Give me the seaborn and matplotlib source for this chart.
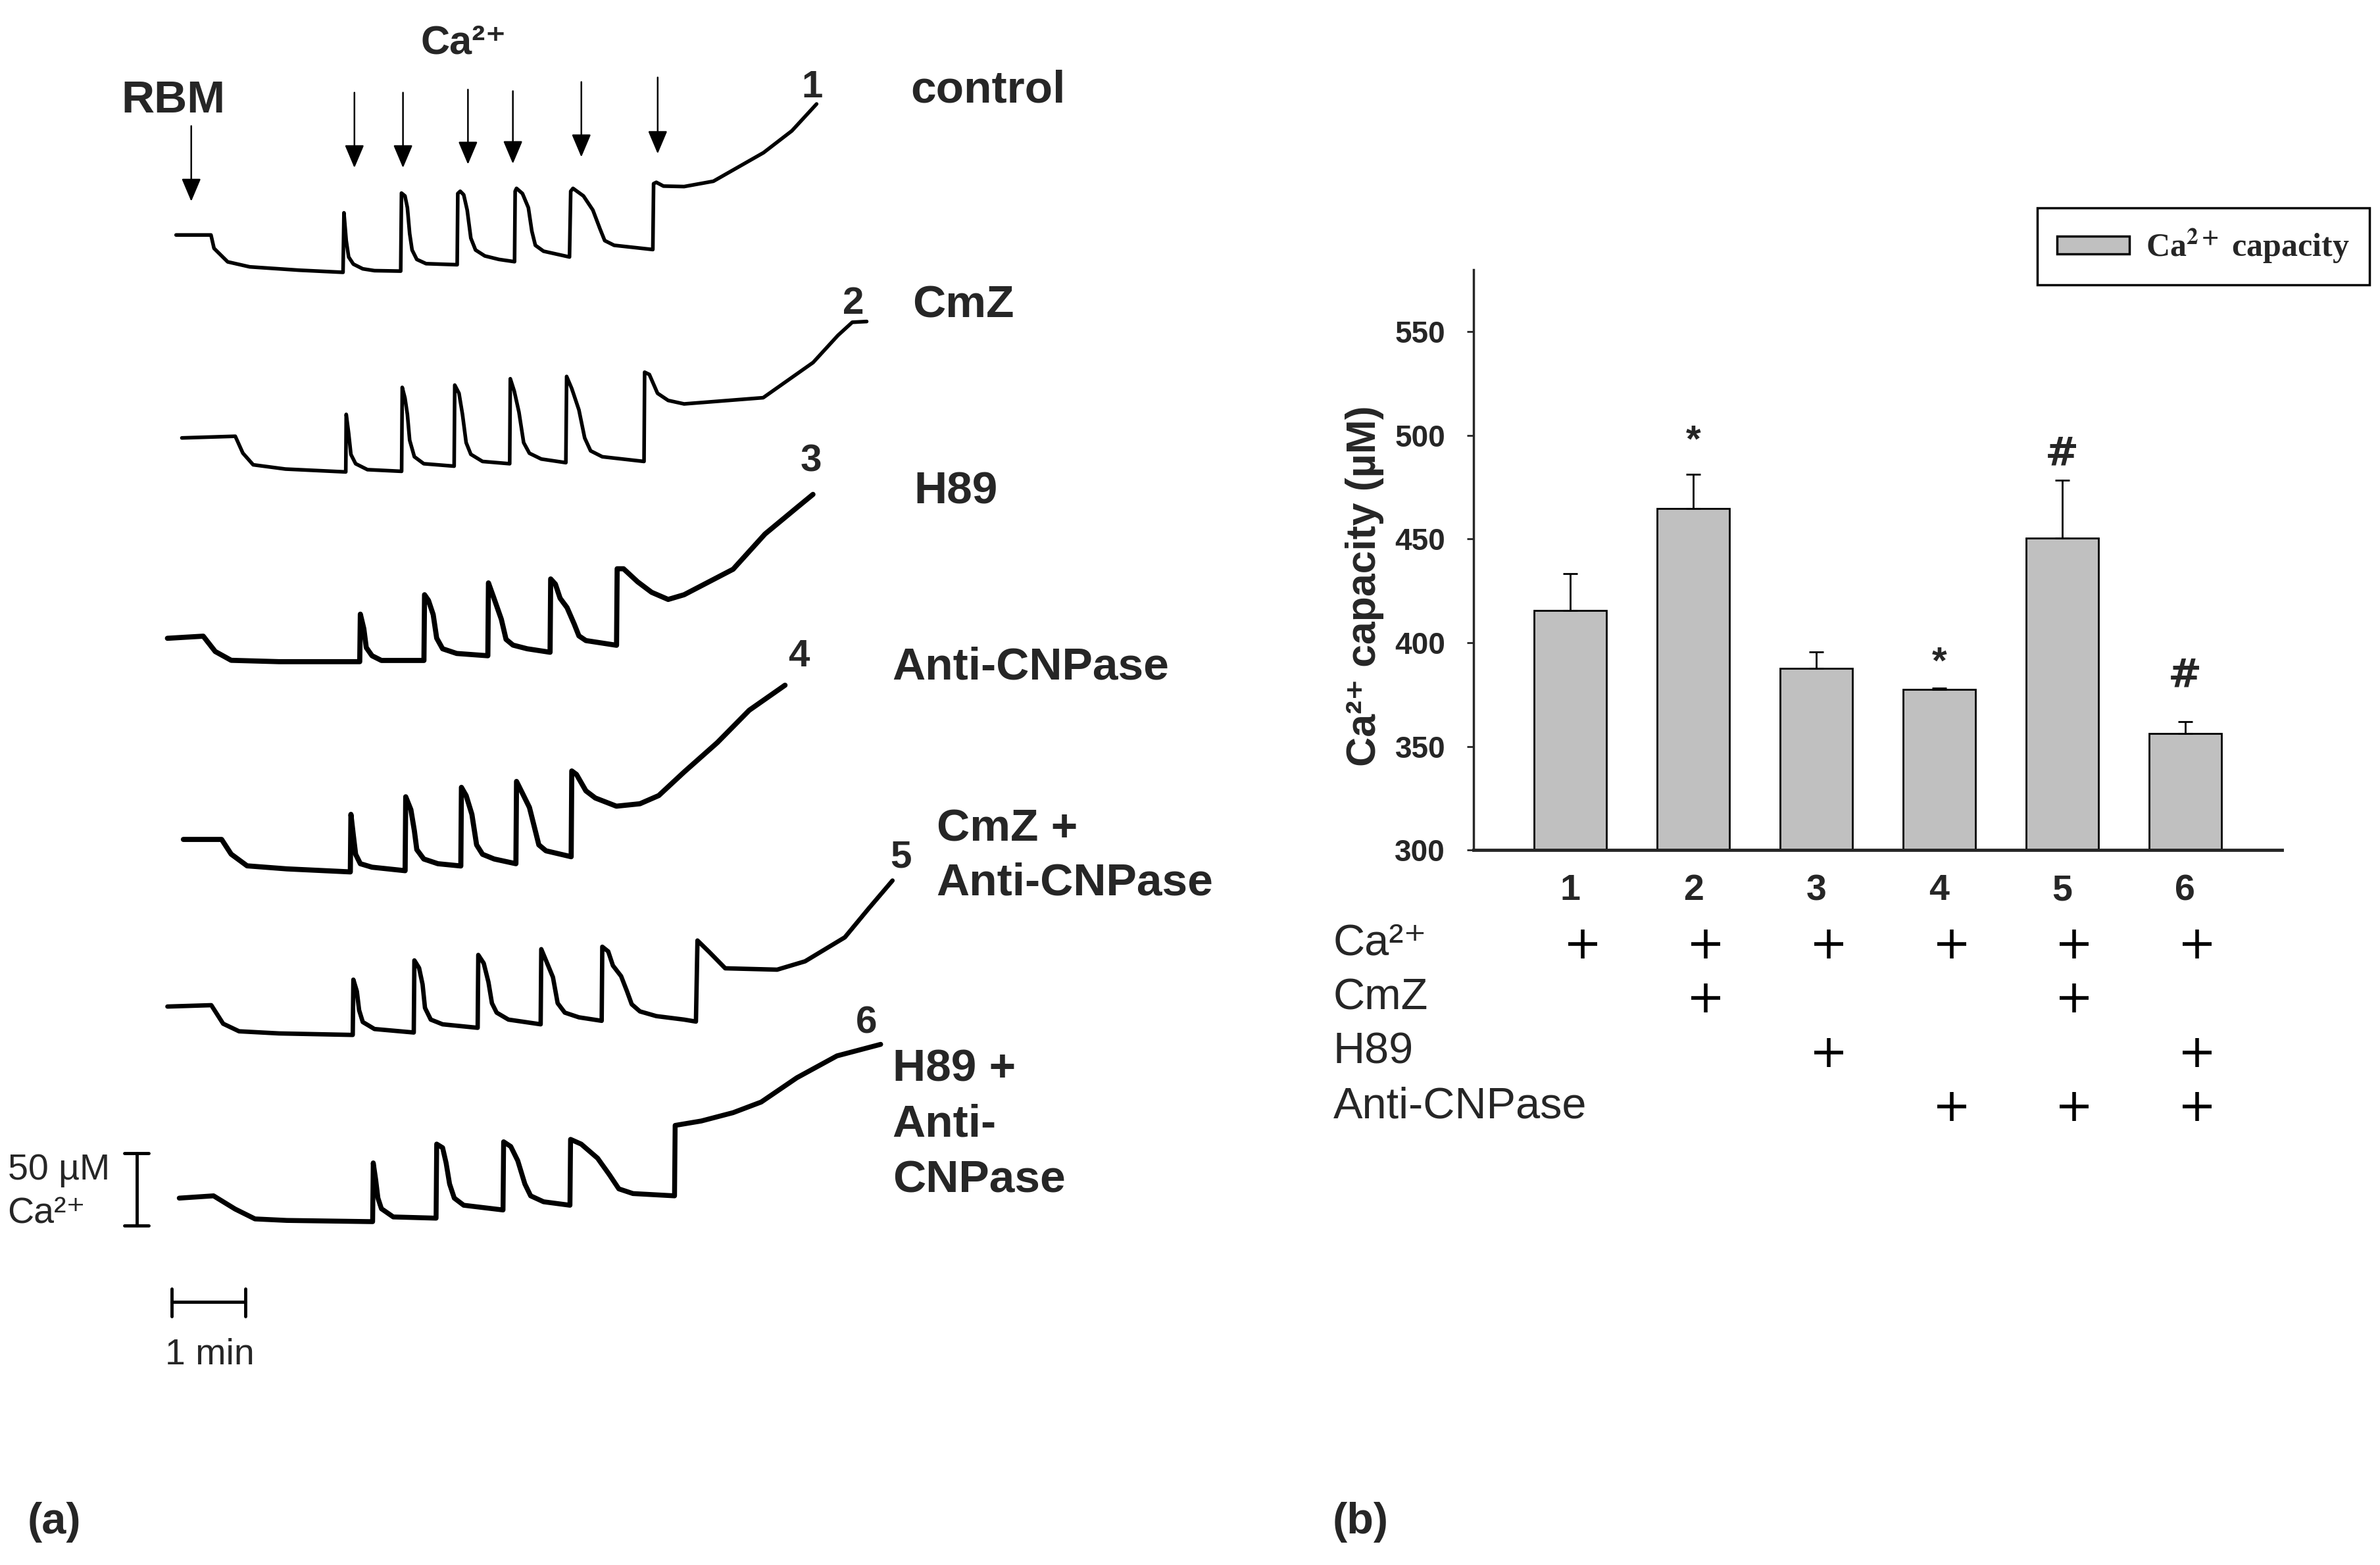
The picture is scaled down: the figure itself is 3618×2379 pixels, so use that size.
import numpy as np
import pandas as pd
import seaborn as sns
import matplotlib.pyplot as plt
from matplotlib.patches import Patch

# ---- panel (a): Ca2+ traces (x ~ time, y ~ signal, y grows downward)
trace1_x = [116, 139, 141, 150, 164.5, 197, 226,
            226.6, 228.1, 229.7, 232.8, 239, 246.7, 264,
            264.5, 266.8, 268.4, 269.9, 271.5, 274.6, 280.7, 301.2,
            301.6, 303.2, 305.5, 307.8, 310.2, 313.3, 319.4, 328.7, 339,
            339.4, 340.3, 344.2, 348.1, 350.4, 352.7, 358.1, 375.2,
            376, 377.5, 384.4, 390.6, 395.3, 398.4, 404.6, 430.1,
            430.6, 432.4, 437.1, 450.7, 470, 503, 521.7, 538]
trace1_y = [154.8, 154.8, 163.6, 172.5, 175.8, 178, 179.4,
            140.2, 158.5, 169.3, 174, 177.1, 178.3, 178.6,
            127.2, 129.1, 136.8, 153.9, 164.7, 170.9, 173.7, 174.4,
            127.5, 126, 128.3, 138.4, 156.9, 164.7, 168.6, 170.9, 172.4,
            126, 124.1, 127.5, 136.8, 152.3, 161.6, 165.5, 169.3,
            126, 124.1, 129.1, 138.4, 150.8, 158.5, 161.6, 164.4,
            121, 120.1, 122.6, 122.9, 119.4, 100.6, 86.2, 68.5]

trace2_x = [119.8, 155, 160, 166.8, 188, 227.8,
            228.1, 229.7, 231.2, 234.3, 242.1, 264.6,
            265, 266.8, 268.4, 269.9, 273, 279.2, 299.2,
            299.6, 302.4, 304.7, 307.1, 310.2, 317.9, 335.8,
            336.2, 338.8, 341.9, 345, 348.8, 356.6, 372.8,
            373.3, 376.7, 381.4, 385.2, 389.1, 396.8, 424.3,
            424.7, 427.8, 433.2, 440.2, 450.7, 502.8, 535.7, 552, 561.5, 571]
trace2_y = [288.5, 287.4, 298.5, 306.2, 309, 310.9,
            273, 285.4, 299.4, 305.5, 309.4, 310.5,
            255.2, 262.2, 273, 290, 300.9, 305.5, 307.1,
            253.7, 259.1, 273, 291.6, 299.3, 304, 305.5,
            249.5, 257.6, 271.5, 291.6, 298.6, 302.4, 304.8,
            248, 256, 270, 288.5, 297, 300.9, 304,
            245.2, 246.7, 259.1, 263.8, 266.1, 262, 238.8, 221, 212.3, 211.8]

trace3_x = [110.3, 133.9, 141.8, 152.3, 183.8, 237,
            237.4, 239.7, 241.3, 245.1, 251.3, 279.3,
            279.7, 282.3, 285.4, 287.7, 291.6, 300.9, 321.4,
            321.8, 324.9, 330.3, 333.4, 338, 347.3, 362.4,
            362.8, 365.9, 369, 373.6, 378.3, 381.4, 386, 406.2,
            406.6, 410.8, 420.1, 429.3, 440.2, 450.7, 483, 504, 525, 535.6]
trace3_y = [420.5, 419.1, 429.2, 435, 435.9, 435.9,
            404.6, 414.2, 426.6, 432, 435.1, 435.1,
            391.8, 395.6, 404.9, 420.4, 427.4, 430.5, 432,
            384, 392.6, 408, 421.2, 425, 427.4, 429.7,
            381.4, 384.8, 394.1, 400.3, 411.1, 418.9, 422, 425.1,
            374.7, 374.7, 383.3, 390.2, 394.9, 391.8, 375, 351.8, 334.4, 325.7]

trace4_x = [120.8, 146, 152.3, 162.8, 189, 230.8,
            231.2, 232.8, 234.3, 237.4, 245.1, 266.9,
            267.3, 270.7, 273, 274.6, 279.2, 288.5, 303.6,
            304, 307.1, 310.9, 314, 317.9, 325.6, 339.9,
            340.3, 344.2, 348.8, 351.9, 355, 359.7, 376.3,
            376.7, 379.8, 386, 392.2, 406.1, 421.6, 434, 450.7, 472.6, 493.6, 517.2]
trace4_y = [553, 553, 562.7, 570.4, 572.4, 574.4,
            536.5, 550.4, 562.8, 569, 571.3, 573.6,
            524.9, 533.4, 547.3, 559.7, 565.9, 569, 570.5,
            518.7, 524.1, 536.5, 556.6, 562.8, 565.9, 569,
            514.8, 522.6, 531.9, 544.2, 556.6, 560.5, 564.4,
            507.9, 510.2, 521, 525.7, 531.1, 529.5, 524.1, 508.6, 489.2, 467.9, 451.4]

trace5_x = [110.3, 139.2, 147, 157.5, 183.8, 232.4,
            232.8, 235.1, 236.6, 239, 246.7, 272.6,
            273, 276.1, 278.4, 280, 283.8, 291.6, 314.7,
            315.1, 318.7, 321.8, 324.1, 327.2, 335, 356.2,
            356.6, 360.5, 364.3, 367.4, 372.1, 381.4, 396.4,
            396.8, 400.7, 403.8, 409.2, 413.1, 416.2, 421.6, 432.4, 450.7, 458.5,
            459.5, 467.3, 477.8, 512, 530.4, 556.6, 572.4, 588]
trace5_y = [663.1, 662.2, 674.4, 679.4, 680.8, 681.8,
            645.4, 653.1, 665.5, 673.3, 677.9, 680.2,
            632.7, 637.7, 648.5, 664, 671.7, 674.8, 677.1,
            629.1, 634.6, 647, 660.9, 667.1, 671.7, 674.8,
            625.3, 634.6, 643.8, 660.9, 667.1, 670.2, 672.5,
            623.7, 626.8, 636.1, 643.1, 653.1, 661.6, 666.3, 669.4, 671.7, 673,
            619.6, 627.2, 637.9, 638.8, 633.3, 617.5, 598.4, 580.1]

trace6_x = [118.1, 140.7, 154.9, 168, 189, 245.5,
            245.9, 247.5, 249, 251.3, 259.1, 287.3,
            287.7, 291.6, 293.9, 296.2, 299.3, 305.5, 331.4,
            331.8, 336.5, 341.1, 345.8, 349.6, 358.1, 375.5,
            375.9, 382.9, 393.7, 401.5, 407.7, 417, 444.4,
            444.8, 449.5, 462, 483, 501.5, 525, 551.4, 580.2]
trace6_y = [789.3, 787.8, 796.5, 803, 804, 804.8,
            766.1, 777, 789.3, 796.3, 801.7, 802.5,
            753.7, 756.1, 766.1, 780, 789.3, 794, 797.1,
            752.2, 755.3, 764.6, 780, 787.8, 791.7, 794,
            750.6, 753.7, 763, 773.9, 783.2, 786.3, 787.8,
            741.4, 740.6, 738.5, 733, 726, 710, 695.6, 688]

# Ca2+ additions (arrows) and the RBM addition
ca_add_x = [233.5, 265.5, 308.3, 337.9, 383, 433.3]
ca_arrow_top = [61, 61, 59, 60, 54, 51]
ca_arrow_tip = [110.6, 110.6, 108.3, 107.9, 103.5, 101.3]
rbm_add = (126, 83, 132.7)

# ---- panel (b): Ca2+ capacity
groups = ["1", "2", "3", "4", "5", "6"]
capacity = [415.6, 464.8, 387.6, 377.4, 450.4, 356.3]
sem = [17.6, 16.3, 8.1, 0.8, 28.0, 5.8]
sig_marks = ["", "*", "", "*", "#", "#"]
sig_y = [np.nan, 497, np.nan, 390, 491, 384]

treatments = ["Ca²⁺", "CmZ", "H89", "Anti-CNPase"]
given = [[1, 1, 1, 1, 1, 1],
         [0, 1, 0, 0, 1, 0],
         [0, 0, 1, 0, 0, 1],
         [0, 0, 0, 1, 1, 1]]

sns.set_theme(style="ticks")
plt.rcParams["font.family"] = ["Liberation Sans", "DejaVu Sans"]
plt.rcParams["mathtext.fontset"] = "stix"

fig = plt.figure(figsize=(36.18, 23.79), dpi=100)

# panel (a) drawn on a full-figure canvas
ax_a = fig.add_axes([0, 0, 1, 1])
ax_a.set_xlim(0, 1568)
ax_a.set_ylim(1031, 0)
ax_a.axis("off")

traces = [(trace1_x, trace1_y, 4), (trace2_x, trace2_y, 4), (trace3_x, trace3_y, 5.6),
          (trace4_x, trace4_y, 5.6), (trace5_x, trace5_y, 4.8), (trace6_x, trace6_y, 5.4)]
for tx, ty, lw in traces:
    ax_a.plot(tx, ty, color="black", lw=lw, solid_joinstyle="round", solid_capstyle="round")

arrow_kw = dict(arrowstyle="-|>,head_length=0.9,head_width=0.38", color="black", lw=1.8,
                mutation_scale=24, shrinkA=0, shrinkB=0)
for x, top, tip in zip(ca_add_x, ca_arrow_top, ca_arrow_tip):
    ax_a.annotate("", xy=(x, tip), xytext=(x, top), arrowprops=arrow_kw)
ax_a.annotate("", xy=(rbm_add[0], rbm_add[2]), xytext=(rbm_add[0], rbm_add[1]), arrowprops=arrow_kw)

bold = dict(fontweight="bold", fontsize=50, va="baseline", ha="left")
ax_a.text(80, 74, "RBM", **bold)
ax_a.text(277, 35.4, "Ca²⁺", fontweight="bold", fontsize=44, va="baseline", ha="left")
ax_a.text(600, 67.4, "control", **bold)
ax_a.text(601, 209, "CmZ", **bold)
ax_a.text(602, 331.7, "H89", **bold)
ax_a.text(588, 447.5, "Anti-CNPase", **bold)
ax_a.text(617, 554, "CmZ +", **bold)
ax_a.text(617, 589.8, "Anti-CNPase", **bold)
ax_a.text(588, 712.4, "H89 +", **bold)
ax_a.text(588, 748.8, "Anti-", **bold)
ax_a.text(588, 785.3, "CNPase", **bold)

trace_num_pos = [(535, 64), (562, 206.7), (534.5, 310.6), (526.5, 438.9), (593.5, 571.4), (571, 680.4)]
for i, (x, y) in enumerate(trace_num_pos):
    ax_a.text(x, y, str(i + 1), fontweight="bold", fontsize=42, ha="center", va="baseline")

# scale bars
ax_a.plot([90.3, 90.3], [759.5, 807.5], color="black", lw=3.5)
ax_a.plot([82, 98], [759.5, 759.5], color="black", lw=3.5)
ax_a.plot([82, 98], [807.5, 807.5], color="black", lw=3.5)
ax_a.text(5, 777, "50 µM", fontsize=40, va="baseline", ha="left")
ax_a.text(5, 806, "Ca²⁺", fontsize=40, va="baseline", ha="left")
ax_a.plot([113, 161.7], [857.7, 857.7], color="black", lw=3.5)
ax_a.plot([113, 113], [849, 867], color="black", lw=3.5)
ax_a.plot([161.7, 161.7], [849, 867], color="black", lw=3.5)
ax_a.text(138, 899, "1 min", fontsize=40, va="baseline", ha="center")

ax_a.text(18, 1003, "(a)", fontsize=48, fontweight="bold", va="center", ha="left")
ax_a.text(878, 1003, "(b)", fontsize=48, fontweight="bold", va="center", ha="left")

# panel (b) bar chart
ax_b = fig.add_axes([0.6190, 0.4568, 0.3399, 0.3710])
df = pd.DataFrame({"group": groups, "capacity": capacity})
sns.barplot(data=df, x="group", y="capacity", color="#c0c0c0", saturation=1, edgecolor="black",
            linewidth=2, width=0.59, errorbar=None, ax=ax_b)
ax_b.errorbar(np.arange(len(groups)), capacity, yerr=[np.zeros(len(groups)), sem], fmt="none",
              ecolor="black", elinewidth=2, capsize=8, capthick=2)
for i, (m, y) in enumerate(zip(sig_marks, sig_y)):
    if m == "*":
        ax_b.text(i, y, m, ha="center", va="center", fontweight="bold", fontsize=42)
    elif m:
        ax_b.text(i, y, m, ha="center", va="center", fontweight="bold", fontsize=44,
                  family="DejaVu Sans")

ax_b.set_ylim(300, 580)
ax_b.set_xlim(-0.79, 5.79)
ax_b.set_yticks(range(300, 551, 50))
ax_b.set_xlabel("")
ax_b.set_ylabel("Ca²⁺ capacity (µM)", fontweight="bold", fontsize=45)
ax_b.yaxis.set_label_coords(-0.11, 0.455)
sns.despine(ax=ax_b)
ax_b.spines["left"].set_linewidth(2.5)
ax_b.spines["bottom"].set_linewidth(3.5)
ax_b.tick_params(axis="y", direction="out", length=7.5, width=2, pad=23, labelsize=33)
ax_b.tick_params(axis="x", length=0, pad=26, labelsize=40)
for lab in ax_b.get_yticklabels() + ax_b.get_xticklabels():
    lab.set_fontweight("bold")

# treatment table under the bars
ax_t = fig.add_axes([0.6190, 0.2755, 0.3399, 0.1387])
ax_t.set_xlim(-0.79, 5.79)
ax_t.set_ylim(3.5, -0.5)
ax_t.axis("off")
rows, cols = np.nonzero(np.array(given))
ax_t.scatter(cols + 0.1, rows, marker="+", s=1000, linewidths=4, color="black")
for r, name in enumerate(treatments):
    ax_t.text(-1.93, r, name, ha="left", va="center", fontsize=48)

leg = fig.legend(handles=[Patch(facecolor="#c0c0c0", edgecolor="black", lw=2.5,
                                label=r"Ca$^{\mathbf{2+}}$ capacity")],
                 loc="center", bbox_to_anchor=(0.9257, 0.8424), frameon=True, fancybox=False,
                 edgecolor="black", framealpha=1, borderpad=0.6, handlelength=2.2,
                 handleheight=0.47, handletextpad=0.5,
                 prop={"family": "Liberation Serif", "weight": "bold", "size": 36})
leg.get_frame().set_linewidth(2.5)

fig.savefig("out.png", dpi=100)
